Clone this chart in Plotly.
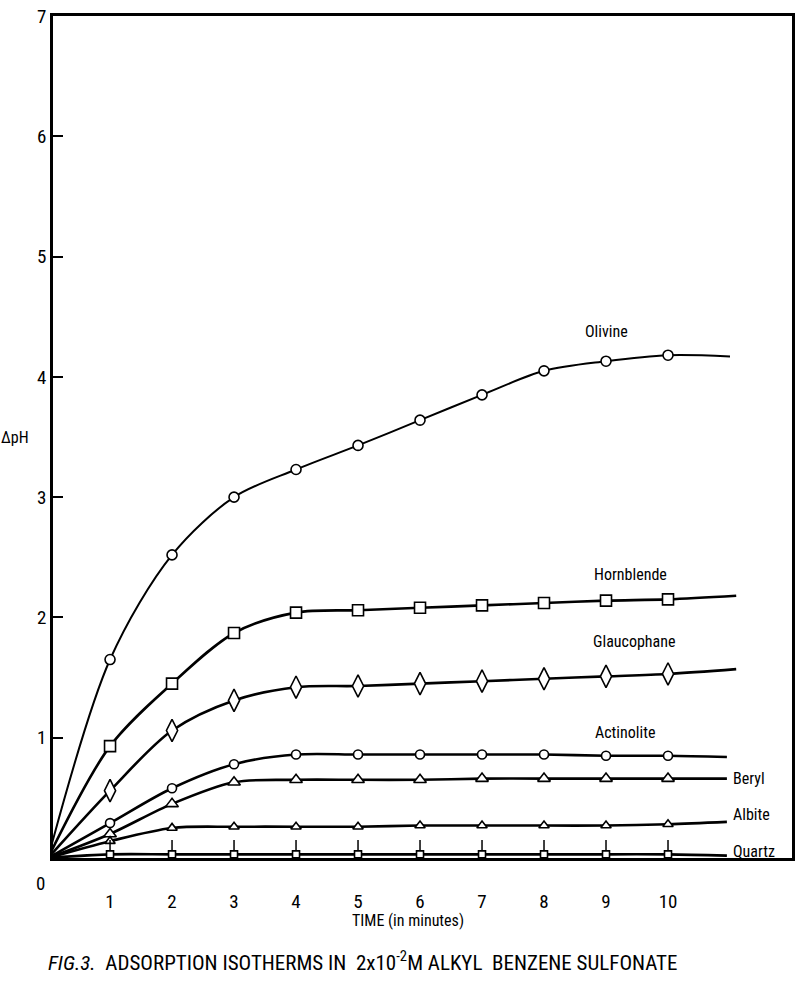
import plotly.graph_objects as go

# ---- data ----
time = [0, 1, 2, 3, 4, 5, 6, 7, 8, 9, 10]
marker_time = [1, 2, 3, 4, 5, 6, 7, 8, 9, 10]

olivine = [0, 1.65, 2.52, 3.00, 3.23, 3.43, 3.64, 3.85, 4.05, 4.13, 4.18]
hornblende = [0, 0.93, 1.45, 1.87, 2.04, 2.06, 2.08, 2.10, 2.12, 2.14, 2.15]
glaucophane = [0, 0.56, 1.06, 1.31, 1.42, 1.43, 1.45, 1.47, 1.49, 1.51, 1.53]
actinolite = [0, 0.29, 0.58, 0.78, 0.86, 0.86, 0.86, 0.86, 0.86, 0.85, 0.85]
beryl = [0, 0.20, 0.45, 0.63, 0.65, 0.65, 0.65, 0.66, 0.66, 0.66, 0.66]
albite = [0, 0.14, 0.25, 0.26, 0.26, 0.26, 0.27, 0.27, 0.27, 0.27, 0.28]
quartz = [0, 0.03, 0.03, 0.03, 0.03, 0.03, 0.03, 0.03, 0.03, 0.03, 0.03]
quartz_bar = [0.12, 0.12, 0.12, 0.12, 0.12, 0.12, 0.12, 0.12, 0.12, 0.12]

# end of each drawn curve (beyond last measured point)
end_time = {"Olivine": 11.0, "Hornblende": 11.1, "Glaucophane": 11.1,
            "Actinolite": 10.95, "Beryl": 10.95, "Albite": 10.95, "Quartz": 10.95}
end_value = {"Olivine": 4.17, "Hornblende": 2.18, "Glaucophane": 1.57,
             "Actinolite": 0.84, "Beryl": 0.66, "Albite": 0.30, "Quartz": 0.02}

x_ticks = [1, 2, 3, 4, 5, 6, 7, 8, 9, 10]
y_ticks = [1, 2, 3, 4, 5, 6, 7]

FONT = "Liberation Sans Narrow, Roboto Condensed, Liberation Sans, sans-serif"

series = [
    ("Olivine", olivine, "circle", 10, 2.0),
    ("Hornblende", hornblende, "square", 11, 2.6),
    ("Glaucophane", glaucophane, "diamond-tall", 16, 2.6),
    ("Actinolite", actinolite, "circle", 9, 2.6),
    ("Beryl", beryl, "triangle-up", 11, 2.6),
    ("Albite", albite, "triangle-up", 9, 2.6),
    ("Quartz", quartz, "square", 7, 2.6),
]

fig = go.Figure()
for name, vals, sym, size, lw in series:
    fig.add_trace(go.Scatter(
        x=time + [end_time[name]], y=vals + [end_value[name]],
        mode="lines", line=dict(color="black", width=lw, shape="spline", smoothing=0.9),
        showlegend=False, hoverinfo="skip"))
    mk = dict(x=marker_time, y=vals[1:], mode="markers",
              marker=dict(symbol=sym, size=size, color="white",
                          line=dict(color="black", width=1.6)),
              showlegend=False, name=name, cliponaxis=False)
    if name == "Quartz":
        mk["error_y"] = dict(type="data", symmetric=False, array=quartz_bar,
                             arrayminus=[0] * len(quartz_bar), width=0,
                             color="black", thickness=1.5)
    fig.add_trace(go.Scatter(**mk))

# curve labels
labels = [
    ("Olivine", 9.0, 4.38, "center"),
    ("Hornblende", 9.4, 2.36, "center"),
    ("Glaucophane", 9.45, 1.80, "center"),
    ("Actinolite", 9.3, 1.04, "center"),
    ("Beryl", 11.02, 0.66, "left"),
    ("Albite", 11.02, 0.36, "left"),
    ("Quartz", 11.02, 0.05, "left"),
]
for txt, x, y, xa in labels:
    fig.add_annotation(x=x, y=y, text=txt, showarrow=False, xanchor=xa,
                       font=dict(family=FONT, size=16, color="black"))

# origin label, axis titles, caption
fig.add_annotation(xref="paper", yref="paper", x=-0.008, y=-0.014, text="0",
                   showarrow=False, xanchor="right", yanchor="top",
                   font=dict(family=FONT, size=19, color="black"))
fig.add_annotation(xref="paper", yref="paper", x=-0.03, y=0.5, text="ΔpH",
                   showarrow=False, xanchor="right",
                   font=dict(family=FONT, size=16, color="black"))
fig.add_annotation(xref="paper", yref="paper", x=0.48, y=-0.06, text="TIME (in minutes)",
                   showarrow=False, xanchor="center", yanchor="top",
                   font=dict(family=FONT, size=16, color="black"))
fig.add_annotation(xref="paper", yref="paper", x=-0.01, y=-0.103,
                   text="<i>FIG.3.</i>&nbsp; ADSORPTION ISOTHERMS IN&nbsp; 2x10<sup>-2</sup>M ALKYL&nbsp; BENZENE SULFONATE",
                   showarrow=False, xanchor="left", yanchor="top",
                   font=dict(family=FONT, size=21, color="black"))

fig.update_xaxes(range=[0.08, 12.0], tickvals=x_ticks, ticktext=[str(t) for t in x_ticks],
                 showgrid=False, zeroline=False, showline=True, linecolor="black",
                 linewidth=2.5, mirror=True, ticks="", ticklabelstandoff=24,
                 tickfont=dict(family=FONT, size=19, color="black"))
fig.update_yaxes(range=[0, 7], tickvals=y_ticks, showgrid=False, zeroline=False,
                 showline=True, linecolor="black", linewidth=2.5, mirror=True,
                 ticks="inside", ticklen=10, tickwidth=2, tickcolor="black",
                 tickfont=dict(family=FONT, size=19, color="black"))

fig.update_layout(width=800, height=986, margin=dict(l=53, r=5, t=13, b=128),
                  paper_bgcolor="white", plot_bgcolor="white")

fig.write_html("out.html")
